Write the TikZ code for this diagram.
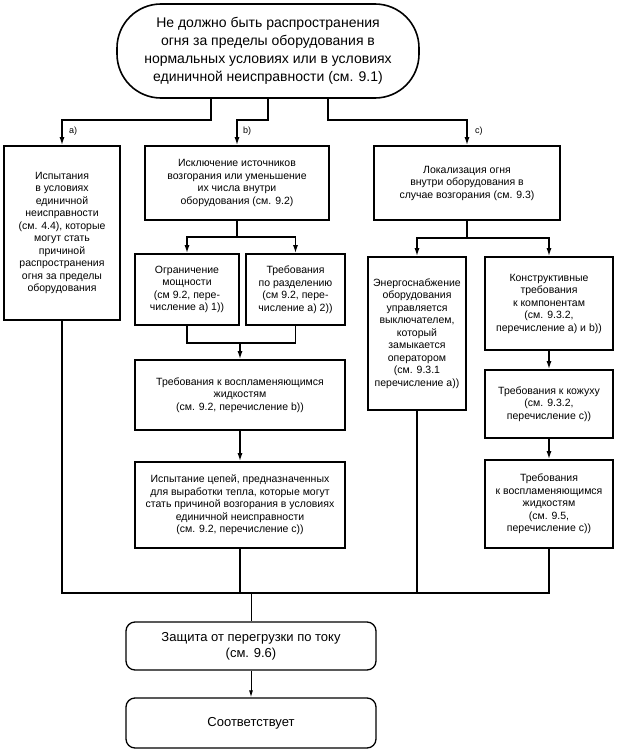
\documentclass[tikz,border=0pt]{standalone}
\usepackage{fontspec}
\setmainfont{Liberation Sans}
\usetikzlibrary{arrows.meta}
\begin{document}
\begin{tikzpicture}[x=1pt,y=-1pt,
 box/.style={draw, line width=1.6pt, align=center, inner sep=0pt, font=\fontsize{10.5}{12.5}\selectfont},
 sz/.style 2 args={minimum width=#1pt, minimum height=#2pt},
 conn/.style={line width=1.5pt},
 arr/.style={conn, -{Latex[length=8pt,width=5pt]}},
 thinconn/.style={line width=1pt},
 thinarr/.style={thinconn, -{Latex[length=7pt,width=4pt]}},
 lab/.style={font=\fontsize{9}{10}\selectfont, anchor=west, inner sep=0pt},
 rbox/.style={draw, line width=1.3pt, rounded corners=9pt, align=center, font=\fontsize{13}{16}\selectfont, inner sep=0pt}]
\useasboundingbox (0,0) rectangle (620,752);

\node[draw, line width=1.6pt, rounded corners=44pt, align=center, inner sep=0pt, sz={302}{94}, font=\fontsize{14}{18}\selectfont] (top) at (268,51)
 {Не должно быть распространения\\огня за пределы оборудования в\\нормальных условиях или в условиях\\единичной неисправности (см. 9.1)};

\node[box, sz={116}{174}] (boxa) at (62,233)
 {Испытания\\в условиях\\единичной\\неисправности\\(см. 4.4), которые\\могут стать\\причиной\\распространения\\огня за пределы\\оборудования};
\node[box, sz={184}{74}] (b1) at (237,183)
 {Исключение источников\\возгорания или уменьшение\\их числа внутри\\оборудования (см. 9.2)};
\node[box, sz={186}{74}] (c1) at (467,183)
 {Локализация огня\\внутри оборудования в\\случае возгорания (см. 9.3)};

\node[box, sz={104}{71}] (ogr) at (187,289.5)
 {Ограничение\\мощности\\(см 9.2, пере-\\числение а) 1))};
\node[box, sz={99}{71}] (raz) at (295.5,289.5)
 {Требования\\по разделению\\(см 9.2, пере-\\числение а) 2))};
\node[box, sz={210}{70}] (vb) at (240,395)
 {Требования к воспламеняющимся\\жидкостям\\(см. 9.2, перечисление b))};
\node[box, sz={210}{86}] (isp) at (240,505)
 {Испытание цепей, предназначенных\\для выработки тепла, которые могут\\стать причиной возгорания в условиях\\единичной неисправности\\(см. 9.2, перечисление с))};

\node[box, sz={98}{153}] (en) at (417,333.5)
 {Энергоснабжение\\оборудования\\управляется\\выключателем,\\который\\замыкается\\оператором\\(см. 9.3.1\\перечисление а))};
\node[box, sz={128}{93}] (konstr) at (549,303.5)
 {Конструктивные\\требования\\к компонентам\\(см. 9.3.2,\\перечисление а) и b))};
\node[box, sz={128}{68}] (kozh) at (549,404)
 {Требования к кожуху\\(см. 9.3.2,\\перечисление с))};
\node[box, sz={128}{88}] (vc) at (549,504)
 {Требования\\к воспламеняющимся\\жидкостям\\(см. 9.5,\\перечисление с))};

\node[rbox, sz={250}{48}] (zash) at (251,646)
 {Защита от перегрузки по току\\(см. 9.6)};
\node[rbox, sz={250}{50}] (sootv) at (251,723) {Соответствует};

\node[lab] (la) at (69,131) {a)};
\node[lab] (lb) at (243,131) {b)};
\node[lab] (lc) at (475,131) {c)};

\coordinate (bus) at (0,593);
\coordinate (mergeb) at (0,342);

% top branches
\draw[arr] ([xshift=-57pt]top.south) -- ++(0,21) -| (boxa.north);
\draw[arr] (top.south) -- ++(0,21) -| (b1.north);
\draw[arr] ([xshift=60pt]top.south) -- ++(0,21) -| (c1.north);

% b column
\draw[arr] (b1.south) -- ++(0,16) -| (ogr.north);
\draw[arr] (b1.south) -- ++(0,16) -| (raz.north);
\draw[conn] (ogr.south) -- ++(0,17) -| (raz.south);
\draw[arr] (vb.north |- mergeb) -- (vb.north);
\draw[arr] (vb.south) -- (isp.north);

% c column
\draw[arr] (c1.south) -- ++(0,17) -| (en.north);
\draw[arr] (c1.south) -- ++(0,17) -| (konstr.north);
\draw[arr] (konstr.south) -- (kozh.north);
\draw[arr] (kozh.south) -- (vc.north);

% bottom bus
\draw[conn] (boxa.south) |- (vc.south |- bus) -- (vc.south);
\draw[conn] (en.south) -- (en.south |- bus);
\draw[conn] (isp.south) -- (isp.south |- bus);
\draw[thinconn] (zash.north |- bus) -- (zash.north);
\draw[thinarr] (zash.south) -- (sootv.north);
\end{tikzpicture}
\end{document}
